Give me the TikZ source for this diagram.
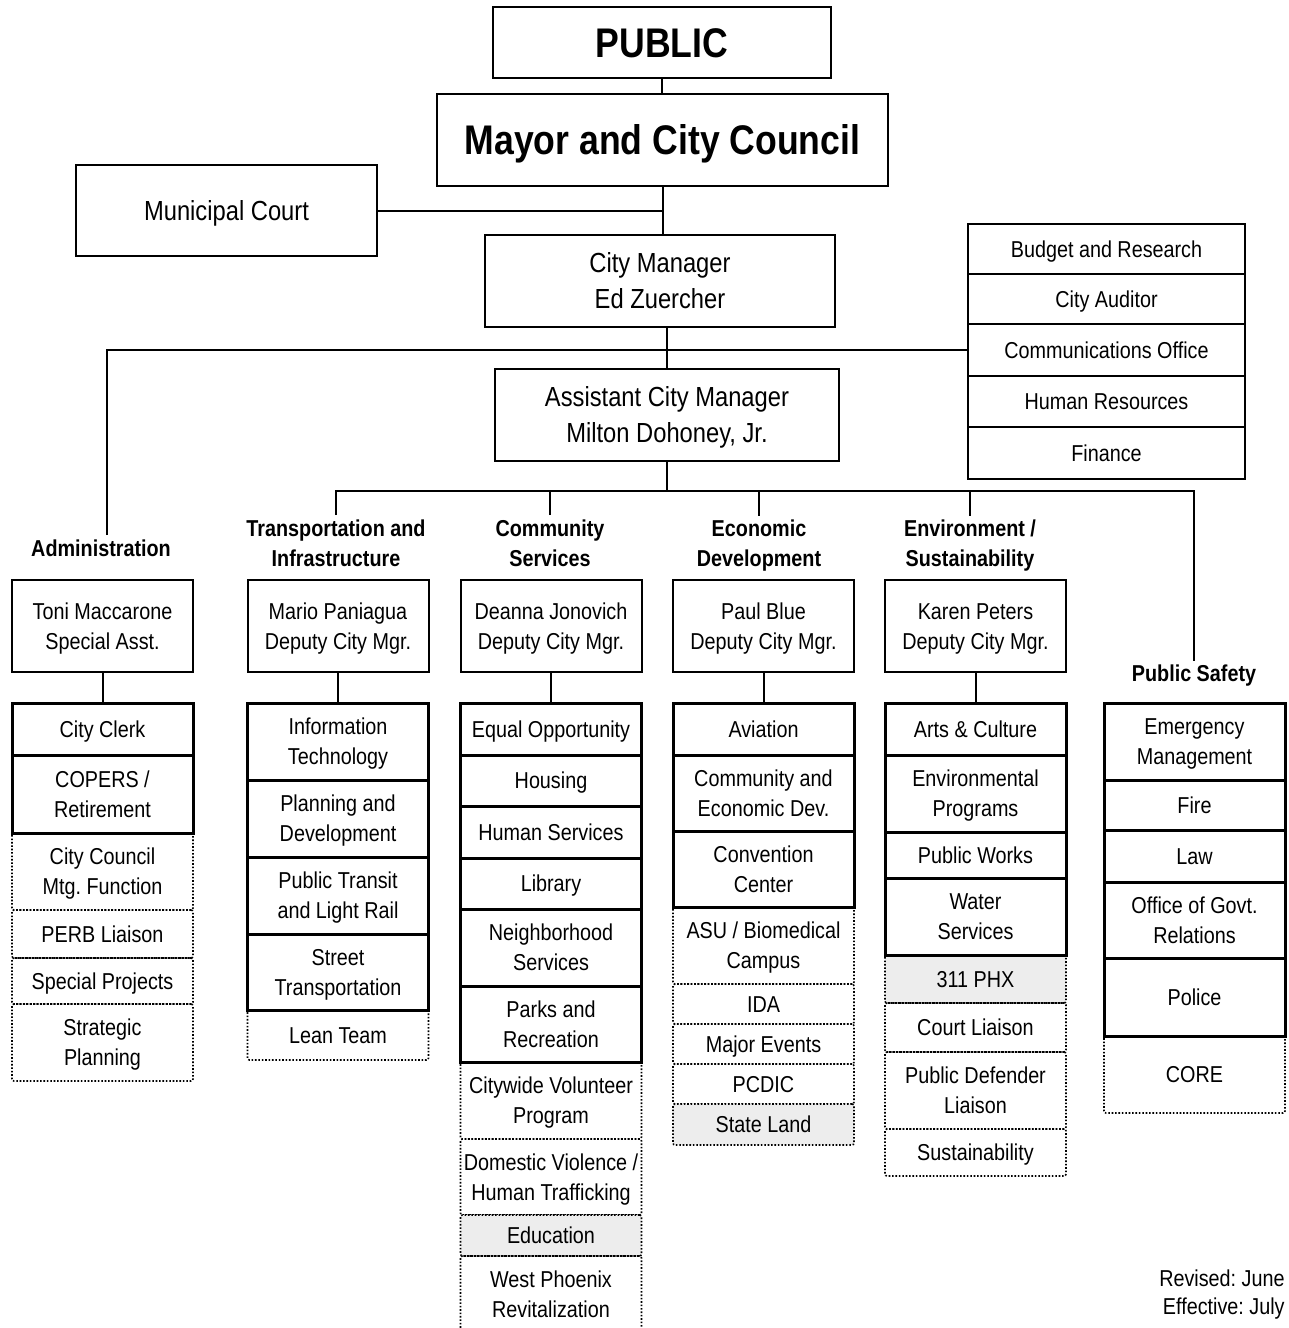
\documentclass[tikz,border=0pt]{standalone}
\usepackage{fontspec}
\setmainfont{Liberation Sans}[FakeStretch=0.86]
\usetikzlibrary{positioning}
\frenchspacing

\tikzset{
  wire/.style={line width=1pt},
  topbox/.style={draw, line width=1pt, inner sep=0pt, align=center, text depth=0pt},
  staffcell/.style={draw, line width=1pt, inner sep=0pt, align=center, minimum width=138.5pt, font=\fontsize{11.5}{15}\selectfont, text height=8.3pt, text depth=0pt},
  deputy/.style={draw, line width=1pt, inner sep=0pt, align=center, minimum width=90.5pt, minimum height=46pt, font=\fontsize{11.5}{15}\selectfont, text height=23.3pt, text depth=0pt},
  cell/.style={draw, line width=1.5pt, inner sep=0pt, align=center, minimum width=90.5pt, font=\fontsize{11.5}{15}\selectfont, text height=8.3pt, text depth=0pt},
  dotcell/.style={draw, line width=0.8pt, dash pattern=on 0.8pt off 0.9pt, rounded corners=1pt, inner sep=0pt, align=center, minimum width=90.5pt, font=\fontsize{11.5}{15}\selectfont, text height=8.3pt, text depth=0pt},
  twolines/.style={text height=23.3pt},
  shaded/.style={fill=black!7},
  head/.style={align=center, inner sep=2pt, font=\fontsize{11.5}{15}\selectfont\bfseries}
}

\begin{document}
\begin{tikzpicture}[x=0.5pt, y=-0.5pt]
\useasboundingbox (0,0) rectangle (1289,1328);

\node[topbox, minimum width=169pt, minimum height=35.5pt, font=\fontsize{20.7}{24}\selectfont\bfseries, text height=14.8pt] (public) at (662,42.5) {PUBLIC};
\node[topbox, minimum width=225.5pt, minimum height=46pt, font=\fontsize{20.7}{24}\selectfont\bfseries, text height=14.8pt] (mayor) at (662.5,140) {Mayor and City Council};
\node[topbox, minimum width=150.5pt, minimum height=45.5pt, font=\fontsize{13.8}{18}\selectfont, text height=9.9pt] (court) at (226.5,210.5) {Municipal Court};
\node[topbox, minimum width=175pt, minimum height=46pt, font=\fontsize{13.8}{18}\selectfont, text height=27.9pt] (cm) at (660,281) {City Manager\\Ed Zuercher};
\node[topbox, minimum width=172pt, minimum height=46pt, font=\fontsize{13.8}{18}\selectfont, text height=27.9pt] (acm) at (667,415) {Assistant City Manager\\Milton Dohoney, Jr.};

\node[staffcell, minimum height=25pt] (budget) at (1106.5,249) {Budget and Research};
\node[staffcell, minimum height=25pt] (auditor) at (1106.5,299) {City Auditor};
\node[staffcell, minimum height=26pt] (comm) at (1106.5,350) {Communications Office};
\node[staffcell, minimum height=25.5pt] (hr) at (1106.5,401.5) {Human Resources};
\node[staffcell, minimum height=26pt] (finance) at (1106.5,453) {Finance};

\draw[wire] (public.south) -- (public.south |- mayor.north);
\draw[wire] (mayor.south) -- (mayor.south |- cm.north);
\draw[wire] (court.east) -- (court.east -| mayor.south);
\draw[wire] (acm.north |- cm.south) -- (acm.north);

\node[head] (adminhead) at (101,548) {Administration};
\node[head] (transhead) at (336,543) {Transportation and\\Infrastructure};
\node[head] (commhead) at (550,543) {Community\\Services};
\node[head] (econhead) at (759,546) {Economic\\Development};
\node[head] (envhead) at (970,546) {Environment /\\Sustainability};
\node[head] (pshead) at (1194,676) {Public Safety};

\coordinate (opsbus) at (667,491);
\draw[wire] (adminhead.north -| 107,0) |- (comm.west);
\draw[wire] (acm.south) -- (opsbus);
\draw[wire] (transhead.north) |- (opsbus) -| (pshead.north);
\draw[wire] (commhead.north) -- (commhead.north |- opsbus);
\draw[wire] (econhead.north) -- (econhead.north |- opsbus);
\draw[wire] (envhead.north) -- (envhead.north |- opsbus);

\node[deputy] (toni) at (102.5,626) {Toni Maccarone\\Special Asst.};
\node[deputy] (mario) at (338,626) {Mario Paniagua\\Deputy City Mgr.};
\node[deputy] (deanna) at (551,626) {Deanna Jonovich\\Deputy City Mgr.};
\node[deputy] (paul) at (763.5,626) {Paul Blue\\Deputy City Mgr.};
\node[deputy] (karen) at (975.5,626) {Karen Peters\\Deputy City Mgr.};

\node[dotcell, twolines, minimum height=38.5pt] (council) at (102.5,871.5) {City Council\\Mtg. Function};
\node[dotcell, minimum height=24pt] (perb) at (102.5,934) {PERB Liaison};
\node[dotcell, minimum height=23pt] (special) at (102.5,981) {Special Projects};
\node[dotcell, twolines, minimum height=38.5pt] (strategic) at (102.5,1042.5) {Strategic\\Planning};
\node[cell, minimum height=26pt] (clerk) at (102.5,729) {City Clerk};
\node[cell, twolines, minimum height=39pt] (copers) at (102.5,794) {COPERS /\\Retirement};

\node[dotcell, minimum height=25pt] (lean) at (338,1035) {Lean Team};
\node[cell, twolines, minimum height=38.5pt] (it) at (338,741.5) {Information\\Technology};
\node[cell, twolines, minimum height=38.5pt] (planning) at (338,818.5) {Planning and\\Development};
\node[cell, twolines, minimum height=38.5pt] (transit) at (338,895.5) {Public Transit\\and Light Rail};
\node[cell, twolines, minimum height=38pt] (street) at (338,972) {Street\\Transportation};

\node[dotcell, twolines, minimum height=38.5pt] (volunteer) at (551,1100.5) {Citywide Volunteer\\Program};
\node[dotcell, twolines, minimum height=38pt] (domestic) at (551,1177) {Domestic Violence /\\Human Trafficking};
\node[dotcell, shaded, minimum height=20.5pt] (education) at (551,1235.5) {Education};
\node[dotcell, twolines, minimum height=38pt] (westphx) at (551,1294) {West Phoenix\\Revitalization};
\node[cell, minimum height=26pt] (equalopp) at (551,729) {Equal Opportunity};
\node[cell, minimum height=25.5pt] (housing) at (551,780.5) {Housing};
\node[cell, minimum height=26pt] (humserv) at (551,832) {Human Services};
\node[cell, minimum height=25.5pt] (library) at (551,883.5) {Library};
\node[cell, twolines, minimum height=38.5pt] (neighborhood) at (551,947.5) {Neighborhood\\Services};
\node[cell, twolines, minimum height=38pt] (parks) at (551,1024) {Parks and\\Recreation};

\node[dotcell, twolines, minimum height=38.5pt] (asu) at (763.5,945.5) {ASU / Biomedical\\Campus};
\node[dotcell, minimum height=20pt] (ida) at (763.5,1004) {IDA};
\node[dotcell, minimum height=20pt] (events) at (763.5,1044) {Major Events};
\node[dotcell, minimum height=20pt] (pcdic) at (763.5,1084) {PCDIC};
\node[dotcell, shaded, minimum height=20.5pt] (stateland) at (763.5,1124.5) {State Land};
\node[cell, minimum height=26pt] (aviation) at (763.5,729) {Aviation};
\node[cell, twolines, minimum height=38pt] (ced) at (763.5,793) {Community and\\Economic Dev.};
\node[cell, twolines, minimum height=38pt] (convention) at (763.5,869) {Convention\\Center};

\node[dotcell, shaded, minimum height=24pt] (phx) at (975.5,979) {311 PHX};
\node[dotcell, minimum height=24.5pt] (courtliaison) at (975.5,1027.5) {Court Liaison};
\node[dotcell, twolines, minimum height=38.5pt] (defender) at (975.5,1090.5) {Public Defender\\Liaison};
\node[dotcell, minimum height=23.5pt] (sustain) at (975.5,1152.5) {Sustainability};
\node[cell, minimum height=26pt] (arts) at (975.5,729) {Arts \& Culture};
\node[cell, twolines, minimum height=38.5pt] (envprog) at (975.5,793.5) {Environmental\\Programs};
\node[cell, minimum height=23pt] (works) at (975.5,855) {Public Works};
\node[cell, twolines, minimum height=38.5pt] (water) at (975.5,916.5) {Water\\Services};

\node[dotcell, minimum height=38.5pt] (core) at (1194.5,1074.5) {CORE};
\node[cell, twolines, minimum height=38.5pt] (emergency) at (1194.5,741.5) {Emergency\\Management};
\node[cell, minimum height=25pt] (fire) at (1194.5,805) {Fire};
\node[cell, minimum height=26pt] (law) at (1194.5,856) {Law};
\node[cell, twolines, minimum height=38pt] (govt) at (1194.5,920) {Office of Govt.\\Relations};
\node[cell, minimum height=39pt] (police) at (1194.5,997) {Police};

\draw[wire] (toni.south) -- (clerk.north);
\draw[wire] (mario.south) -- (it.north);
\draw[wire] (deanna.south) -- (equalopp.north);
\draw[wire] (paul.south) -- (aviation.north);
\draw[wire] (karen.south) -- (arts.north);

\node[anchor=east, inner sep=0pt, font=\fontsize{11.5}{15}\selectfont] (revised) at (1285,1278) {Revised: June};
\node[anchor=east, inner sep=0pt, font=\fontsize{11.5}{15}\selectfont] (effective) at (1285,1309) {Effective: July};
\end{tikzpicture}
\end{document}
